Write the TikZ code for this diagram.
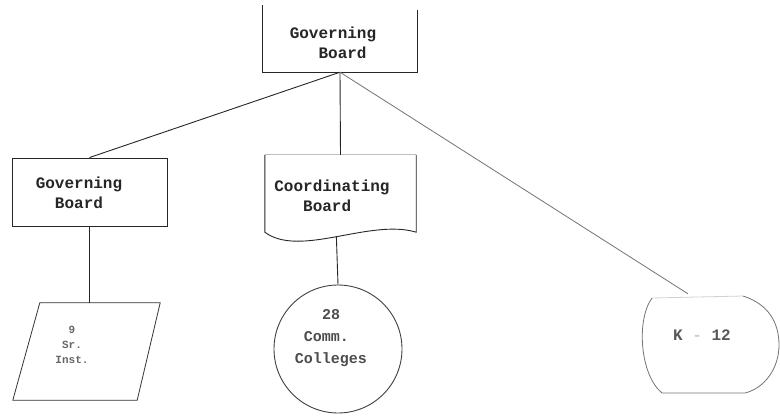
\documentclass[tikz,border=0pt]{standalone}
\usepackage{fontspec}
\setmonofont{Liberation Mono}
\usetikzlibrary{calc}
\newcommand{\ind}[1]{\phantom{#1}}
\begin{document}
\begin{tikzpicture}[x=1pt,y=-1pt,
  frame/.style={draw=black!85, line width=0.9pt},
  faint/.style={draw=black!55, line width=0.8pt},
  link/.style={draw=black!85, line width=0.9pt},
  shapebox/.style={inner sep=0pt, minimum width=#1},
  txt/.style={font=\ttfamily\bfseries\fontsize{16}{20}\selectfont, align=left, inner sep=0pt, text=black!85},
  smalltxt/.style={font=\ttfamily\bfseries\fontsize{11}{15}\selectfont, align=left, inner sep=0pt, text=black!60},
  roundtxt/.style={font=\ttfamily\bfseries\fontsize{15}{22}\selectfont, align=left, inner sep=0pt, text=black!70}]

\useasboundingbox (0,0) rectangle (780,418);

% Top level: governing board (open frame)
\node[shapebox=154pt, minimum height=67pt] (top) at (340,38.5) {};
\draw[frame] (top.north west) -- (top.south west) -- (top.south east) -- ([yshift=-5pt]top.north east);
\node[txt] (topt) at (333,43) {Governing\\\ind{Gov}Board};

% Second level, left: governing board
\node[shapebox=155pt, minimum height=68pt, frame] (gb) at (89.5,192) {};
\node[txt] (gbt) at (79,193) {Governing\\\ind{Go}Board};

% Second level, middle: coordinating board (document shape)
\node[shapebox=151pt, minimum height=77pt] (cb) at (340.5,193.5) {};
\draw[draw=black!25, line width=0.8pt] (cb.north west) -- (cb.north east);
\draw[frame] (cb.north west) -- (cb.south west)
  .. controls ($(cb.south west)+(35,26)$) and ($(cb.south east)+(-46,-14)$) .. coordinate[pos=0.5] (cbw) (cb.south east)
  -- (cb.north east);
\node[txt] (cbt) at (332,196) {Coordinating\\\ind{Coo}Board};

% Third level, left: institutions (parallelogram)
\node[shapebox=147pt, minimum height=97pt] (par) at (86.5,351.5) {};
\draw[faint, draw=black!80] (par.south west) -- ([xshift=27pt]par.north west) -- (par.north east)
  -- ([xshift=-23pt]par.south east) -- cycle;
\node[smalltxt] (part) at (72,345) {\ind{Sr}9\\\ind{I}Sr.\\Inst.};

% Third level, middle: community colleges (circle)
\node[circle, draw=black!75, line width=0.9pt, minimum size=128pt, inner sep=0pt] (cc) at (338,349) {};
\node[roundtxt] (cct) at (331,338) {\ind{Col}28\\\ind{C}Comm.\\Colleges};

% Third level, right: K-12 (display shape)
\node[shapebox=136pt, minimum height=98pt] (k12) at (712,345) {};
\draw[draw=black!18, line width=0.8pt] (652,298) -- (743,296);
\draw[faint] (743,296) .. controls (768,304) and (779,322) .. (779,345)
  .. controls (779,368) and (765,388) .. (745,393) -- (662,393)
  .. controls (640,375) and (636,320) .. (652,298);
\node[txt, text=black!65] (k12t) at (702,335) {K {\color{black!20}-} 12};
\coordinate (k12in) at ($(k12.north)+(-24,-2)$);

% Connectors
\draw[link] (top.south) -- (gb.north);
\draw[link] (top.south) -- (cb.north);
\draw[faint] (top.south) -- (k12in);
\draw[link] (gb.south) -- (gb.south |- par.north);
\draw[link] (cbw) -- (cc.north);
\end{tikzpicture}
\end{document}
